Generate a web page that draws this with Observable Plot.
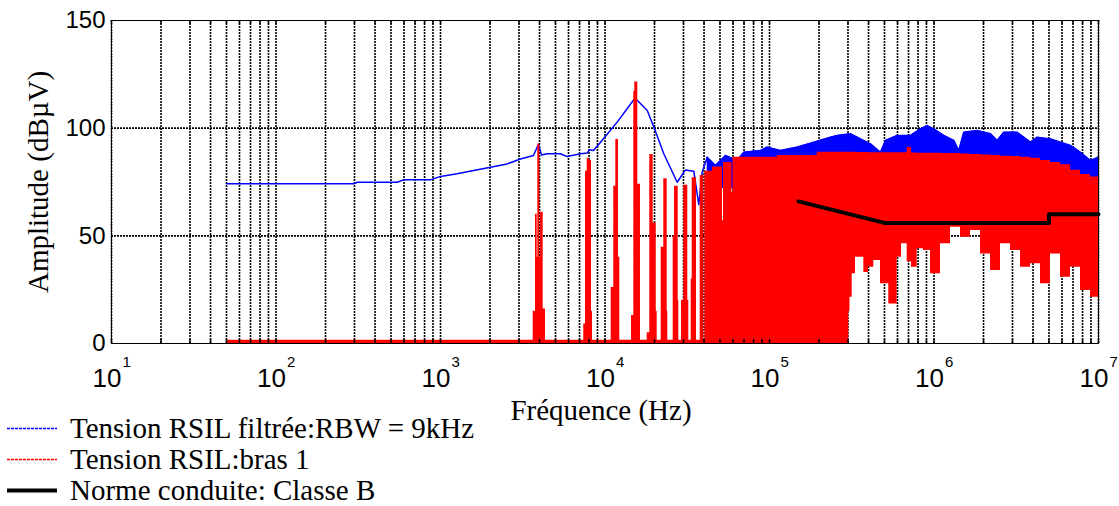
<!DOCTYPE html>
<html>
<head>
<meta charset="utf-8">
<script src="https://cdn.jsdelivr.net/npm/d3@7"></script>
<script src="https://cdn.jsdelivr.net/npm/@observablehq/plot@0.6"></script>
<style>
  html, body { margin: 0; padding: 0; background: #fff; }
  #wrap { position: relative; width: 1119px; height: 506px; overflow: hidden; }
  #legend { position: absolute; left: 0; top: 413px; font-family: "Liberation Serif", "Times New Roman", serif; font-size: 29px; line-height: 31px; color: #000; }
  #legend .row { display: flex; align-items: center; height: 31px; white-space: nowrap; }
  #legend svg { width: 70px; height: 31px; flex: none; }
</style>
</head>
<body>
<div id="wrap"></div>
<script>
// ---- axis ticks ----
const decades = [1e1, 1e2, 1e3, 1e4, 1e5, 1e6, 1e7];
const decadeExp = ["1", "2", "3", "4", "5", "6", "7"];
const gridMult = [1, 2, 3, 4, 5, 6, 7, 8, 9];
const yTicks = [0, 50, 100, 150];
const yGrid = [50, 100];

// ---- blue: Tension RSIL filtrée (RBW = 9kHz), low-frequency line part ----
const blueLineF = [50, 297, 312, 546, 596, 869, 1000, 1262, 1592, 2012, 2541, 3061, 3672, 3942, 4113, 4456, 5361, 5888, 7096, 7798, 8050, 8511, 9394, 11860, 14960, 15700, 18060, 19820, 22770, 27470, 30830, 34660, 37150, 38980, 41810];
const blueLineV = [74.2, 74.2, 74.9, 74.9, 76, 76, 77.6, 78.8, 80.3, 81.9, 83.4, 85.7, 87.3, 92.5, 87.5, 88.1, 88.1, 86.8, 88.1, 88.5, 90, 89.6, 93.5, 102.8, 113.2, 113, 108.2, 100.5, 88.1, 74.9, 80.6, 80, 64.5, 79.6, 86.5];

// ---- blue: dense high-frequency part (upper envelope) ----
const blueBandF = [41810, 46970, 54030, 63630, 69800, 88170, 96830, 116700, 147400, 185900, 234900, 258000, 310800, 357500, 411200, 472900, 507200, 597400, 719600, 827800, 909300, 997300, 1147000, 1319000, 1415000, 1518000, 1831000, 2206000, 2422000, 2657000, 3205000, 3861000, 4240000, 5108000, 5875000, 6757000, 7773000, 8940000, 10000000];
const blueBandHi = [86.5, 82.7, 87.3, 85, 88.8, 89.6, 91.2, 89.6, 91.2, 93.5, 95.8, 96.6, 97.4, 95, 92.7, 88.8, 94.3, 96.6, 96.6, 99.7, 101.2, 99.7, 96.6, 94.3, 89.6, 98.1, 98.9, 97.4, 94.3, 98.1, 98.1, 93.5, 95.8, 95, 93.5, 92, 88.8, 85, 86.5];

// ---- red: Tension RSIL bras 1 (spectrum: each value holds until the next frequency) ----
const redF = [50, 3661, 3781, 3871, 3905, 4016, 4056, 4210, 4348,
  7431, 7613, 7797, 8051, 8279, 8395,
  10906, 11310, 11632, 12080, 12303,
  14490, 14965, 15176, 15823, 16433,
  18050, 18720, 19630, 20470, 20760,
  21960, 22770, 23880, 24080,
  25980, 26460, 27860, 28100,
  29170, 30130, 31870, 32320,
  33420, 33890, 35990,
  37920, 39870,
  40440, 45030, 51790, 52530, 59160, 59990, 111500, 195000,
  303400, 308600, 318200, 333300, 374500, 399700, 430500, 472900, 531100, 597400, 634500, 687200, 729700, 790700, 863600, 952200,
  1095000, 1260000, 1449000, 1667000, 1918000, 2206000, 2537000, 2917000, 3356000, 3861000, 4441000, 5108000, 5875000, 6757000, 7773000, 8940000, 10000000];
const redLo = [0, 0, 0, 0, 0, 0, 0, 0, 0,
  0, 0, 0, 0, 0, 0,
  0, 0, 0, 0, 0,
  0, 0, 0, 0, 0,
  0, 0, 0, 0, 0,
  0, 0, 0, 0,
  0, 0, 0, 0,
  0, 0, 0, 0,
  0, 0, 0,
  0, 0,
  0, 0, 0, 0, 0, 0, 0, 0,
  15, 21.5, 32.4, 40.1, 33, 35.4, 38.5, 27.7, 18.4, 40, 46.3, 38, 35.4, 44, 43.2, 32.4,
  46.3, 54, 49.4, 52.5, 41.6, 33.9, 46.3, 43.2, 35.4, 37, 27.7, 41.6, 30.8, 35.4, 24.6, 21.5, 21.5];
const redHi = [1.5, 15, 60, 40, 92.7, 40, 61, 16, 1.5,
  9, 80, 86, 85, 15, 1.5,
  26, 73, 94.7, 40, 1.5,
  13, 117, 121.4, 74, 1.5,
  5, 87.8, 56, 15, 1.5,
  44.7, 76.5, 15, 1.5,
  50, 73, 20, 1.5,
  20, 73.5, 20, 1.5,
  30, 77, 1.5,
  78, 1.5,
  80, 82, 57, 84, 70, 86.5, 87.3, 88.8,
  88.8, 88.8, 88.8, 88.7, 88.7, 88.6, 88.6, 88.6, 88.6, 88.6, 88.6, 91, 88.5, 88.4, 88.4, 88.3,
  88.2, 88.2, 88, 87.8, 87.5, 87.3, 87, 86.8, 86.5, 86, 85, 84, 83, 80.5, 78.5, 77.3, 77.3];

// ---- black: Norme conduite Classe B ----
const normF = [150000, 500000, 5000000, 5000000, 10000000];
const normV = [66, 56, 56, 60, 60];

// ---- legend ----
const legendLabels = ["Tension RSIL filtrée:RBW = 9kHz", "Tension RSIL:bras 1", "Norme conduite: Classe B"];
const legendColors = ["#0000ff", "#ff0000", "#000000"];
const legendWidths = [1.5, 1.5, 4];

// build tables
const blueLine = blueLineF.map((f, i) => ({f, v: blueLineV[i]}));
const blueBand = blueBandF.map((f, i) => ({f, hi: blueBandHi[i]}));
const red = redF.map((f, i) => ({f, lo: redLo[i], hi: redHi[i]}));
const norm = normF.map((f, i) => ({f, v: normV[i]}));
const gridFreqs = decades.slice(0, -1).flatMap(d => gridMult.map(m => m * d)).concat([decades[decades.length - 1]]);
const expData = decades.map((d, i) => ({d, e: decadeExp[i]}));

const sans = "'Liberation Sans', Arial, Helvetica, sans-serif";
const serif = "'Liberation Serif', 'Times New Roman', serif";

const chart = Plot.plot({
  width: 1119,
  height: 506,
  marginTop: 20,
  marginRight: 21,
  marginBottom: 163,
  marginLeft: 111,
  style: {background: "#fff", overflow: "visible"},
  x: {type: "log", domain: [10, 1e7], axis: null},
  y: {domain: [0, 150], axis: null},
  marks: [
    Plot.ruleX(gridFreqs, {x: d => d, stroke: "#000", strokeWidth: 1.6, strokeDasharray: "2,1"}),
    Plot.ruleY(yGrid, {y: d => d, stroke: "#000", strokeWidth: 1.6, strokeDasharray: "2,1"}),
    Plot.areaY(blueBand, {x: "f", y1: 72, y2: "hi", fill: "#0000ff"}),
    Plot.line(blueBand, {x: "f", y: "hi", stroke: "#0000ff", strokeWidth: 1.5}),
    Plot.line(blueLine, {x: "f", y: "v", stroke: "#0000ff", strokeWidth: 1.5}),
    Plot.areaY(red, {x: "f", y1: "lo", y2: "hi", fill: "#ff0000", curve: "step-after"}),
    Plot.line(norm, {x: "f", y: "v", stroke: "#000", strokeWidth: 4}),
    Plot.frame({stroke: "#000", strokeWidth: 1}),
    Plot.ruleX(gridFreqs, {x: d => d, y1: 0, y2: 1.8, stroke: "#000", strokeWidth: 1.5}),
    Plot.ruleX(gridFreqs, {x: d => d, y1: 148.2, y2: 150, stroke: "#000", strokeWidth: 1.5}),
    // y tick labels
    Plot.text(yTicks, {x: 10, y: d => d, text: d => String(d), textAnchor: "end", dx: -6, fontSize: 24, fontFamily: sans, fill: "#000"}),
    // x tick labels "10" + exponent
    Plot.text(expData, {x: "d", y: 0, text: () => "10", textAnchor: "end", lineAnchor: "bottom", dx: 10, dy: 43, fontSize: 26, fontFamily: sans, fill: "#000"}),
    Plot.text(expData, {x: "d", y: 0, text: "e", textAnchor: "start", lineAnchor: "bottom", dx: 11, dy: 23, fontSize: 15, fontFamily: sans, fill: "#000"}),
    // axis titles
    Plot.text(["Fréquence (Hz)"], {frameAnchor: "bottom", text: d => d, textAnchor: "middle", lineAnchor: "bottom", dx: -4, dy: 76, fontSize: 29, fontFamily: serif, fill: "#000"}),
    Plot.text(["Amplitude (dBµV)"], {frameAnchor: "left", text: d => d, textAnchor: "middle", lineAnchor: "middle", rotate: -90, dx: -73, fontSize: 29, fontFamily: serif, fill: "#000"})
  ]
});

const wrap = document.getElementById("wrap");
wrap.appendChild(chart);

const legend = document.createElement("div");
legend.id = "legend";
legendLabels.forEach((label, i) => {
  const row = document.createElement("div");
  row.className = "row";
  const dash = i < 2 ? ' stroke-dasharray="3,1"' : "";
  row.innerHTML = `<svg viewBox="0 0 70 31"><line x1="7" x2="57" y1="15.5" y2="15.5" stroke="${legendColors[i]}" stroke-width="${legendWidths[i]}"${dash}/></svg><span>${label}</span>`;
  legend.appendChild(row);
});
wrap.appendChild(legend);
</script>
</body>
</html>
